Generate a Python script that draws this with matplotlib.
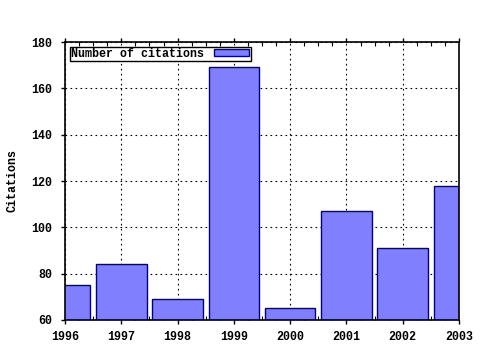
import matplotlib
matplotlib.use("Agg")
import matplotlib.pyplot as plt
from matplotlib.ticker import MultipleLocator, FuncFormatter

years = [1996, 1997, 1998, 1999, 2000, 2001, 2002, 2003]
citations = [75, 84, 69, 169, 65, 107, 91, 118]
series_label = "Number of citations"
y_label = "Citations"

plt.rcParams['font.family'] = ['Liberation Mono', 'DejaVu Sans Mono']
plt.rcParams['font.weight'] = 'bold'
plt.rcParams['font.size'] = 8.4

fig = plt.figure(figsize=(4.8, 3.5), dpi=100)
ax = fig.add_axes([65/480, 30/350, 394/480, 278/350])

ax.bar(years, citations, width=0.9, color='#8080ff', edgecolor='#000080',
       linewidth=1.0, label=series_label, zorder=2)

ax.set_xlim(1996, 2003)
ax.set_ylim(60, 180)
ax.xaxis.set_major_locator(MultipleLocator(1))
ax.xaxis.set_minor_locator(MultipleLocator(0.25))
ax.yaxis.set_major_locator(MultipleLocator(20))
ax.grid(True, which='major', linestyle=(0, (1.5, 3)), color='black', linewidth=0.8, zorder=1)
ax.set_axisbelow(True)

ax.tick_params(axis='x', which='major', direction='out', length=3, width=1,
               top=True, bottom=True, labelsize=8.4, pad=5)
ax.tick_params(axis='x', which='minor', direction='in', length=3, width=0.8,
               top=True, bottom=True)
ax.tick_params(axis='y', which='major', direction='out', length=3, width=1,
               left=True, right=False, labelsize=8.4, pad=6)
ax.xaxis.set_major_formatter(FuncFormatter(lambda v, p: f"{int(round(v))}"))
for lbl in ax.get_xticklabels() + ax.get_yticklabels():
    lbl.set_fontweight('bold')

for s in ax.spines.values():
    s.set_linewidth(1.2)
    s.set_color('black')

ax.set_ylabel(y_label, fontweight='bold', fontsize=8.4, labelpad=9)

leg = ax.legend(loc='upper left', markerfirst=False, fancybox=False, framealpha=1,
                edgecolor='black', borderpad=0.1, handlelength=3.0, handleheight=0.55,
                borderaxespad=0.4, handletextpad=0.9,
                prop={'family': ['Liberation Mono'], 'weight': 'bold', 'size': 8.4})
leg.get_frame().set_linewidth(1.0)

fig.savefig("out.png", dpi=100)
